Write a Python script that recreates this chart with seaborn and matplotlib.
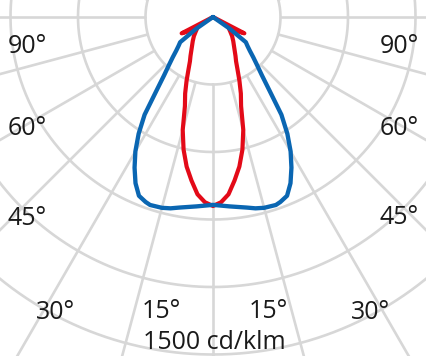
import numpy as np
import pandas as pd
import matplotlib
matplotlib.use("Agg")
import matplotlib.pyplot as plt
import seaborn as sns

# ---- data (cd/klm vs. gamma angle in degrees, symmetric curves) ----
gamma_blue = [0, 5, 10, 12.5, 15, 18.5, 20, 22.5, 25, 27.5, 30, 32.5, 35, 37.5,
              40, 42.5, 45, 47.5, 50, 52.5, 55, 57.5, 60, 75, 90]
cd_blue = [835, 845, 860, 871, 878, 881, 875, 860, 815, 755, 690, 615, 530, 413,
           338, 290, 253, 222, 200, 184, 90, 0, 0, 0, 0]

gamma_red = [0, 2.5, 5, 7.5, 10, 12.5, 15, 17.5, 20, 22.5, 25, 27.5, 30, 35,
             40, 45, 50, 53.5, 62.5, 65, 75, 90]
cd_red = [840, 824, 791, 733, 675, 604, 520, 415, 362, 307, 258, 222, 200, 164,
          140, 120, 100, 89, 157, 0, 0, 0]

ring_values = [300, 600, 900, 1200, 1500]
radial_angles = list(range(0, 360, 15))

left_labels = ["90°", "60°", "45°", "30°", "15°"]
right_labels = ["90°", "60°", "45°", "30°", "15°"]
scale_label = "1500 cd/klm"

BLUE = "#0a66b2"
RED = "#e30a18"
GRID = "#d7d7d7"

sns.set_style("white")
plt.rcParams["font.family"] = ["Open Sans", "DejaVu Sans"]

W, H = 427, 356
fig = plt.figure(figsize=(W / 100, H / 100), dpi=100)

cx, cy = 213, 17          # polar centre in pixels (from top-left)
rmax = 1800
px_per_unit = 67.5 / 300
R = rmax * px_per_unit
ax = fig.add_axes([(cx - R) / W, (H - cy - R) / H, 2 * R / W, 2 * R / H],
                  projection="polar")
ax.set_theta_zero_location("S")
ax.set_ylim(0, rmax)
ax.axis("off")

# grid
tt = np.linspace(0, 2 * np.pi, 721)
for rv in ring_values:
    ax.plot(tt, np.full_like(tt, rv), color=GRID, lw=1.9, zorder=1)
for a in radial_angles:
    t = np.deg2rad(a)
    ax.plot([t, t], [ring_values[0], rmax], color=GRID, lw=1.9, zorder=1)


def full_curve(g, v, name):
    g = np.asarray(g, float)
    v = np.asarray(v, float)
    ang = np.concatenate([-g[::-1], g[1:]])
    val = np.concatenate([v[::-1], v[1:]])
    return pd.DataFrame({"theta": np.deg2rad(ang), "cd": val, "curve": name})


df_red = full_curve(gamma_red, cd_red, "C90")
df_blue = full_curve(gamma_blue, cd_blue, "C0")

sns.lineplot(data=df_red, x="theta", y="cd", ax=ax, sort=False, estimator=None,
             color=RED, lw=3.0, zorder=3)
sns.lineplot(data=df_blue, x="theta", y="cd", ax=ax, sort=False, estimator=None,
             color=BLUE, lw=3.1, zorder=4)
ax.set_ylim(0, rmax)
ax.axis("off")

fs = 18
left_pos = [(27, 53), (27, 135), (27, 225), (56, 319), (161, 318)]
right_pos = [(399, 53), (399, 135), (399, 224), (371, 319), (268, 318)]
for lab, (x, y) in zip(left_labels, left_pos):
    fig.text(x / W, 1 - y / H, lab, ha="center", va="baseline", fontsize=fs,
             color="#1a1a1a")
for lab, (x, y) in zip(right_labels, right_pos):
    fig.text(x / W, 1 - y / H, lab, ha="center", va="baseline", fontsize=fs,
             color="#1a1a1a")
fig.text(214 / W, 1 - 349 / H, scale_label, ha="center", va="baseline",
         fontsize=fs, color="#1a1a1a")

fig.savefig("out.png", dpi=100)
